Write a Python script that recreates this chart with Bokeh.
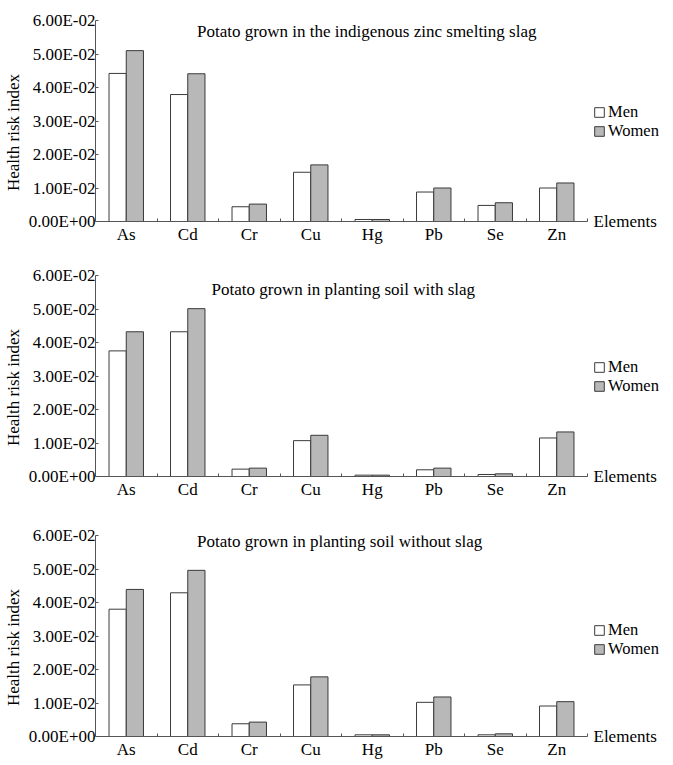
import numpy as np
from bokeh.plotting import figure
from bokeh.models import (ColumnDataSource, Range1d, FixedTicker, Label, Legend, LegendItem,
                          LinearAxis)
from bokeh.layouts import column
from bokeh.embed import file_html
from bokeh.resources import INLINE

elements = ["As", "Cd", "Cr", "Cu", "Hg", "Pb", "Se", "Zn"]
y_ticks = [0.0, 0.01, 0.02, 0.03, 0.04, 0.05, 0.06]
y_tick_labels = ["0.00E+00", "1.00E-02", "2.00E-02", "3.00E-02", "4.00E-02", "5.00E-02", "6.00E-02"]

titles = [
    "Potato grown in the indigenous zinc smelting slag",
    "Potato grown in planting soil with slag",
    "Potato grown in planting soil without slag",
]

men_slag = [0.0442, 0.0379, 0.0044, 0.0147, 0.0006, 0.0088, 0.0048, 0.0100]
women_slag = [0.0510, 0.0441, 0.0052, 0.0169, 0.0006, 0.0100, 0.0056, 0.0115]

men_with = [0.0375, 0.0432, 0.0022, 0.0107, 0.0004, 0.0020, 0.0006, 0.0115]
women_with = [0.0432, 0.0501, 0.0025, 0.0123, 0.0004, 0.0025, 0.0008, 0.0133]

men_without = [0.0380, 0.0429, 0.0038, 0.0154, 0.0005, 0.0102, 0.0005, 0.0091]
women_without = [0.0439, 0.0496, 0.0043, 0.0178, 0.0005, 0.0118, 0.0008, 0.0104]

series = [(men_slag, women_slag), (men_with, women_with), (men_without, women_without)]

FONT = "Liberation Serif"
AXIS_COLOR = "#555555"

# per panel: (border_top, border_bottom, title_x, title_y, men_legend_y, women_legend_y)
panel_layout = [
    (20, 1, 4.41, 0.0566, 99, 80),
    (30, 3, 4.03, 0.0557, 99, 80),
    (33, 0, 3.97, 0.0583, 96, 77),
]
PX_PER_UNIT_Y = 201 / 0.06
BELOW_PX = 23                      # room under the zero line for the category names
Y_MIN = -BELOW_PX / PX_PER_UNIT_Y
FRAME_H = int(round(PX_PER_UNIT_Y * (0.06 - Y_MIN)))
PX_PER_CAT = 61.5
LEFT = 84
FRAME_W = 572
X_END = FRAME_W / PX_PER_CAT

figs = []
for i, ((men, women), title) in enumerate(zip(series, titles)):
    bt, bb, tx, ty, lmy, lwy = panel_layout[i]
    n = len(elements)
    centers = np.arange(n) + 0.5
    src = ColumnDataSource(dict(
        xm=centers - 0.14, xw=centers + 0.14, men=men, women=women))
    p = figure(frame_width=FRAME_W, frame_height=FRAME_H,
               x_range=Range1d(0, X_END), y_range=Range1d(Y_MIN, 0.06),
               output_backend="svg", toolbar_location=None,
               min_border_left=LEFT, min_border_right=0,
               min_border_top=bt, min_border_bottom=bb)
    p.outline_line_color = None
    p.grid.grid_line_color = None
    p.background_fill_color = "white"
    p.border_fill_color = "white"

    r_m = p.vbar(x="xm", top="men", width=0.28, source=src,
                 fill_color="white", line_color="#3a3a3a", line_width=1)
    r_w = p.vbar(x="xw", top="women", width=0.28, source=src,
                 fill_color="#b8b8b8", line_color="#3a3a3a", line_width=1)

    # x axis at the zero line: labels at centers, ticks at boundaries
    xa = p.xaxis[0]
    xa.fixed_location = 0
    xa.bounds = (0, n)
    xa.ticker = FixedTicker(ticks=list(centers), minor_ticks=list(range(1, n + 1)))
    xa.major_label_overrides = {float(c): e for c, e in zip(centers, elements)}
    xa.major_tick_line_color = None
    xa.major_tick_in = 0
    xa.major_tick_out = 0
    xa.minor_tick_in = 3
    xa.minor_tick_out = 0
    xa.minor_tick_line_color = AXIS_COLOR
    xa.axis_line_color = AXIS_COLOR
    xa.major_label_text_font = FONT
    xa.major_label_text_font_size = "17px"
    xa.major_label_text_color = "black"
    xa.major_label_standoff = 3

    ya = p.yaxis[0]
    ya.bounds = (0, 0.06)
    ya.ticker = FixedTicker(ticks=y_ticks, minor_ticks=[])
    ya.major_label_overrides = {t: l for t, l in zip(y_ticks, y_tick_labels)}
    ya.major_tick_in = 3
    ya.major_tick_out = 0
    ya.major_tick_line_color = AXIS_COLOR
    ya.axis_line_color = AXIS_COLOR
    ya.major_label_text_font = FONT
    ya.major_label_text_font_size = "17px"
    ya.major_label_text_color = "black"
    ya.major_label_standoff = 0
    ya.axis_label = "Health risk index"
    ya.axis_label_text_font = FONT
    ya.axis_label_text_font_style = "normal"
    ya.axis_label_text_font_size = "17px"
    ya.axis_label_text_color = "black"
    ya.axis_label_standoff = 3

    # "Elements" name at the right end of the x axis
    ea = LinearAxis(fixed_location=n, ticker=FixedTicker(ticks=[0.0], minor_ticks=[]),
                    major_label_overrides={0.0: "Elements"},
                    axis_line_color=None, major_tick_line_color=None,
                    major_tick_in=0, major_tick_out=0,
                    minor_tick_line_color=None, major_label_standoff=6,
                    major_label_text_font=FONT, major_label_text_font_size="17px",
                    major_label_text_color="black")
    p.add_layout(ea, "right")

    p.add_layout(Label(x=tx, y=ty, text=title, text_font=FONT,
                       text_font_size="17px", text_align="center",
                       text_baseline="middle", text_color="black"))

    lx = int(round(n * PX_PER_CAT)) + 6
    for r, lab, yy in ((r_m, "Men", lmy), (r_w, "Women", lwy)):
        legend = Legend(items=[LegendItem(label=lab, renderers=[r])],
                        location=(lx, yy + BELOW_PX), orientation="vertical",
                        border_line_color=None, background_fill_alpha=0,
                        glyph_width=12, glyph_height=12, label_standoff=3,
                        label_text_font=FONT, label_text_font_size="16.5px",
                        label_text_color="black",
                        label_height=12, spacing=0, padding=0, margin=0)
        p.add_layout(legend)
    figs.append(p)

layout = column(*figs, spacing=0)
open("out.html", "w").write(file_html(layout, INLINE))
